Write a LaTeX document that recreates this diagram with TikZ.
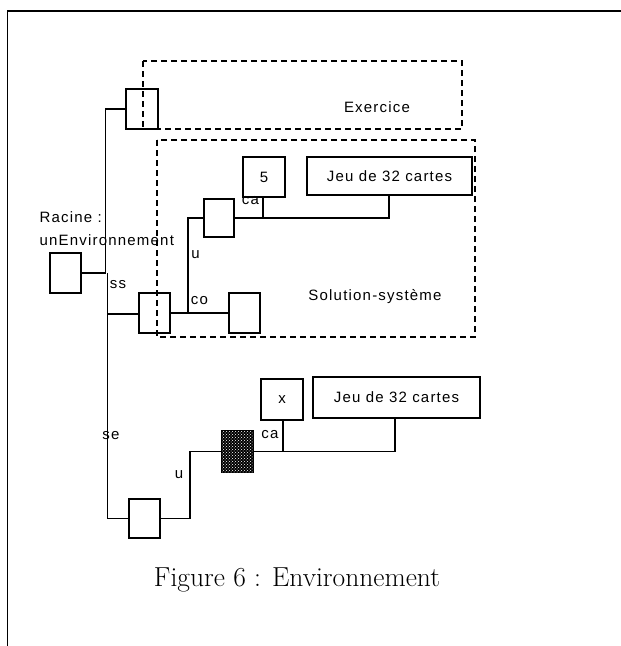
\documentclass[tikz,border=0pt]{standalone}
\usepackage{fontspec}
\newfontfamily\labfont[LetterSpace=8]{Liberation Sans}
\usetikzlibrary{patterns}
\begin{document}
\begin{tikzpicture}[x=1pt,y=-1pt,
  line width=1.2pt,
  labsize/.style={font=\labfont\fontsize{15}{17}\selectfont},
  box/.style={draw,minimum width=31pt,minimum height=40pt,inner sep=0pt},
  valbox/.style={draw,minimum width=42pt,minimum height=40pt,inner sep=0pt,labsize},
  jeubox/.style={draw,minimum width=166pt,minimum height=39pt,inner sep=0pt,labsize},
  lab/.style={inner sep=0pt,labsize},
  zone/.style={draw,dash pattern=on 6pt off 4pt}]
\useasboundingbox (0,0) rectangle (621,646);
% frame
\draw[line width=1.8pt] (7.5,646) -- (7.5,11) -- (621,11);
% dashed zones
\draw[zone] (143,61) rectangle (462,129);
\draw[zone] (157,140) rectangle (475,337);
\node[lab] (exlab) at (377,107) {Exercice};
\node[lab] (sollab) at (375,297) {Solution-système};
% boxes
\node[box] (racine) at (65.5,273) {};
\node[box,minimum width=32pt] (ex) at (142,109) {};
\node[box] (ss) at (154.5,313) {};
\node[box] (co) at (244.5,313) {};
\node[box,minimum width=30pt,minimum height=38pt] (ut) at (219,218) {};
\node[valbox] (five) at (264,177) {5};
\node[jeubox,minimum width=165pt,minimum height=38pt] (jeu1) at (389.5,176) {Jeu de 32 cartes};
\node[box,minimum height=39pt] (bot) at (144.5,518.5) {};
\node[box,minimum height=41pt,fill=black,postaction={pattern=crosshatch dots,pattern color=white}] (filled) at (237.5,451.5) {};
\node[valbox,minimum height=41pt] (xb) at (282,399.5) {x};
\node[jeubox,minimum width=167pt,minimum height=41pt] (jeu2) at (396.5,397.5) {Jeu de 32 cartes};
% labels
\node[lab,anchor=west] (rac1) at (39,217) {Racine :};
\node[lab,anchor=west] (rac2) at (39,240) {unEnvironnement};
\node[lab] (lss) at (118,285) {ss};
\node[lab] (lu1) at (195.5,255) {u};
\node[lab] (lco) at (199.5,301) {co};
\node[lab] (lca1) at (250.5,201) {ca};
\node[lab] (lse) at (111,436) {se};
\node[lab] (lu2) at (179,475) {u};
\node[lab] (lca2) at (270,435) {ca};
% junction coordinates
\coordinate (jr) at (105.5,273);
\coordinate (jt) at (105.5,109);
\coordinate (jb0) at (107.5,273);
\coordinate (jss) at (107.5,314);
\coordinate (jb) at (107.5,518.5);
\coordinate (ju) at (188,313);
\coordinate (jut) at (188,218);
\coordinate (jca1) at (263,218);
\coordinate (jjeu1) at (389,218);
\coordinate (jbr) at (190,518.5);
\coordinate (jbu) at (190,451.5);
\coordinate (jca2) at (283,451.5);
\coordinate (jjeu2) at (395,451.5);
% connectors
\draw (racine.east) -- (jr) -- (jt) -- (ex.west);
\draw (jb0) -- (jb) -- (bot.west);
\draw (jss) -- (ss.west |- jss);
\draw (ss.east) -- (co.west);
\draw (ju) -- (jut) -- (ut.west);
\draw (ut.east) -- (jjeu1) -- (jeu1.south -| jjeu1);
\draw (five.south -| jca1) -- (jca1);
\draw (bot.east) -- (jbr) -- (jbu) -- (filled.west);
\draw (filled.east) -- (jjeu2) -- (jeu2.south -| jjeu2);
\draw (xb.south -| jca2) -- (jca2);
% caption
\node[inner sep=0pt,font=\fontsize{27.5}{30}\selectfont] (cap) at (297,580) {Figure 6 : Environnement};
\end{tikzpicture}
\end{document}
